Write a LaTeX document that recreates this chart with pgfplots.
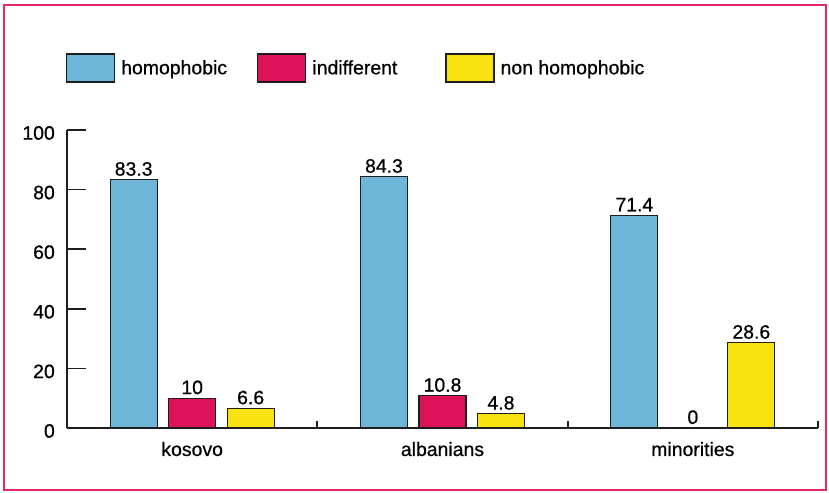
\documentclass[border=0pt]{standalone}
\usepackage{fontspec}
\setmainfont{Liberation Sans}
\newfontfamily\medfont{Liberation Sans}[FakeBold=0.6]
\usepackage{pgfplots}
\pgfplotsset{compat=1.18}
\definecolor{BarBlue}{RGB}{110,182,216}
\definecolor{BarRed}{RGB}{222,18,88}
\definecolor{BarYellow}{RGB}{248,226,18}
\definecolor{FramePink}{RGB}{228,38,108}
\definecolor{InkDark}{RGB}{30,30,30}
\newcommand{\chartfont}{\medfont\fontsize{19.5}{22}\selectfont}
\begin{document}
\begin{tikzpicture}[x=1bp,y=1bp]
  \path[use as bounding box] (0,0) rectangle (829,493);
  % frame of the scanned figure
  \draw[FramePink, line width=2.5bp] (4,3) rectangle (826,488);
  \begin{axis}[
      at={(67bp,65bp)}, anchor=south west,
      scale only axis, width=751bp, height=298bp,
      ybar=11.5bp, bar width=47bp,
      xmin=-0.5, xmax=2.5, ymin=0, ymax=100,
      enlargelimits=false,
      axis x line*=bottom, axis y line*=left,
      axis line style={-, line width=1.7bp, InkDark},
      ytick={0,20,...,100},
      major tick length=19bp,
      tick align=inside,
      ytick style={line width=1.7bp, InkDark},
      xtick={0,1,2},
      xticklabels={kosovo,albanians,minorities},
      xtick style={draw=none},
      extra x ticks={0.5,1.5,2.5},
      extra x tick labels={},
      extra x tick style={major tick length=7bp, xtick style={draw=InkDark, line width=1.7bp}},
      /pgf/number format/assume math mode=true,
      tick label style={font=\chartfont, text=black},
      yticklabel style={anchor=east, inner sep=0pt, xshift=-12bp, yshift=-3bp},
      xticklabel style={anchor=base, inner sep=0pt, yshift=-28bp},
      nodes near coords,
      every node near coord/.append style={font=\chartfont, text=black},
      legend columns=3,
      legend style={at={(axis description cs:-0.0013,1.208)}, anchor=west,
        draw=none, fill=none, inner sep=0pt, outer sep=0pt,
        column sep=0pt, font=\chartfont,
        nodes={inner sep=0pt, anchor=west}},
      legend image code/.code={\draw[#1] (0bp,-14bp) rectangle (48bp,14bp);},
      every axis plot/.append style={draw=InkDark, line width=1.2bp},
    ]
    \addplot[fill=BarBlue] coordinates {(0,83.3) (1,84.3) (2,71.4)};
    \addplot[fill=BarRed] coordinates {(0,10) (1,10.8) (2,0)};
    \addplot[fill=BarYellow] coordinates {(0,6.6) (1,4.8) (2,28.6)};
    \legend{\makebox[142bp][l]{\hspace{6bp}homophobic},
            \makebox[139bp][l]{\hspace{6bp}indifferent},
            \makebox[150bp][l]{\hspace{6bp}non homophobic}}
  \end{axis}
\end{tikzpicture}
\end{document}
